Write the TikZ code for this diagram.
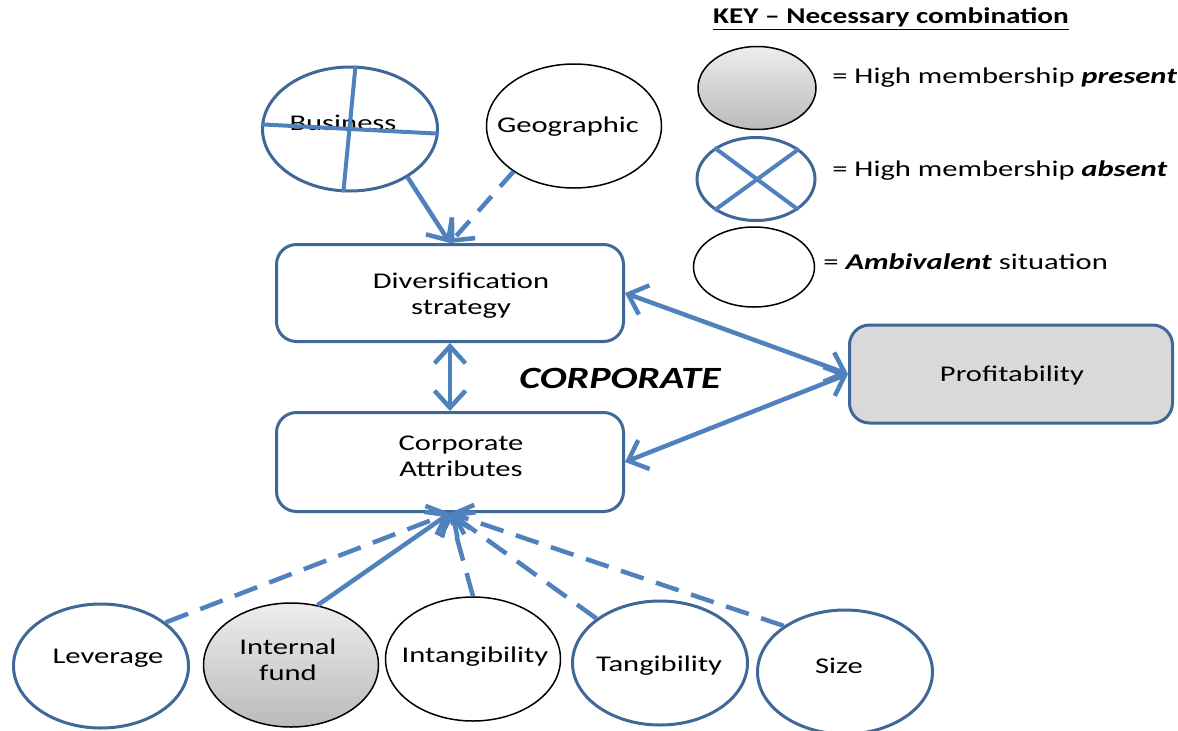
\documentclass[tikz,border=0pt]{standalone}
\usepackage{fontspec}
\setmainfont{Carlito}[FakeStretch=1.36]
\newfontfamily\headfont{Carlito}[FakeStretch=1.3]
\usetikzlibrary{arrows.meta,shapes.geometric}
\newlength\pxu \setlength\pxu{0.02cm}
\definecolor{edgeblue}{HTML}{4F81BD}
\definecolor{rimblue}{HTML}{3F6797}
\definecolor{profgray}{HTML}{D9D9D9}
\begin{document}
\begin{tikzpicture}[x=0.02cm,y=-0.02cm,
  every node/.style={font=\fontsize{12.8}{14.7}\selectfont, inner sep=0pt, align=center},
  box/.style={draw=rimblue, line width=3\pxu, rounded corners=20\pxu, fill=white},
  blueoval/.style={ellipse, draw=rimblue, line width=3\pxu, fill=white},
  plainoval/.style={ellipse, draw=black, line width=1.5\pxu, fill=white},
  grayoval/.style={ellipse, draw=black, line width=1.5\pxu, top color=black!7, bottom color=black!27},
  bigoval/.style={minimum width=175\pxu, minimum height=124\pxu},
  keyoval/.style={minimum width=118\pxu, minimum height=83\pxu},
  crossline/.style={edgeblue, line width=4\pxu},
  link/.style={draw=edgeblue, line width=4.5\pxu, -{Straight Barb[length=0.34cm, width=0.62cm]}},
  twoway/.style={draw=edgeblue, line width=4.5\pxu, {Straight Barb[length=0.34cm, width=0.62cm]}-{Straight Barb[length=0.34cm, width=0.62cm]}},
  dashlink/.style={link, dash pattern=on 0.48cm off 0.26cm},
]
\useasboundingbox (0,0) rectangle (1178,731);

% strategy drivers
\node[blueoval, bigoval] (bus) at (350,129) {};
\node (bustxt) at (343,123) {Business};
\draw[crossline] (bus.85) -- (bus.-96);
\draw[crossline] (bus.177) -- (bus.-3);
\node[plainoval, bigoval] (geo) at (574,126) {};
\node (geotxt) at (568,127) {Geographic};

% central boxes
\node[box, minimum width=347\pxu, minimum height=97\pxu] (div) at (450,293) {};
\node (divtxt) at (461,296) {Diversification\\strategy};
\node[box, minimum width=347\pxu, minimum height=99\pxu] (ca) at (450,462) {};
\node (catxt) at (461,456) {Corporate\\Attributes};
\node[box, fill=profgray, minimum width=323\pxu, minimum height=98\pxu] (prof) at (1011,374) {};
\node (proftxt) at (1012,375) {Profitability};
\node[font=\fontsize{17.6}{20}\headfont\bfseries\itshape] (corp) at (620,378) {CORPORATE};

% corporate attributes
\node[blueoval, bigoval] (lev) at (101,666) {};
\node (levtxt) at (108,658) {Leverage};
\node[grayoval, bigoval] (fund) at (291,665) {};
\node (fundtxt) at (288,660) {Internal\\fund};
\node[plainoval, bigoval] (intan) at (473,659) {};
\node (intantxt) at (475,657) {Intangibility};
\node[blueoval, bigoval] (tang) at (660,663) {};
\node (tangtxt) at (659,666) {Tangibility};
\node[blueoval, bigoval] (size) at (845,672) {};
\node (sizetxt) at (839,666) {Size};

% legend
\node[font=\fontsize{12.8}{14.7}\headfont\bfseries] (keytitle) at (891,19) {\underline{KEY – Necessary combination}};
\node[grayoval, keyoval] (kp) at (757,88) {};
\node[blueoval, keyoval] (ka) at (756,179) {};
\draw[crossline] (ka.143) -- (ka.-36);
\draw[crossline] (ka.35) -- (ka.-143);
\node[plainoval, keyoval, minimum width=121\pxu, minimum height=80\pxu] (kb) at (754,267) {};
\node[anchor=west] (kptxt) at (832,78) {= High membership \textbf{\textit{present}}};
\node[anchor=west] (katxt) at (832,171) {= High membership \textbf{\textit{absent}}};
\node[anchor=west] (kbtxt) at (823,262) {= \textbf{\textit{Ambivalent}} situation};

% connectors
\draw[link] (bus.-40) -- (div.north);
\draw[dashlink, dash pattern=on 0.4cm off 0.26cm] (geo.-143) -- (div.north);
\draw[twoway] (div.south) -- (ca.north);
\draw[twoway] (div.east) -- (prof.west);
\draw[twoway] (prof.west) -- (ca.east);
\draw[dashlink] (lev.34) -- (ca.south);
\draw[link] (fund.66) -- (ca.south);
\draw[dashlink] (intan.90) -- (ca.south);
\draw[dashlink] (tang.145) -- (ca.south);
\draw[dashlink] (size.143) -- (ca.south);
\end{tikzpicture}
\end{document}
